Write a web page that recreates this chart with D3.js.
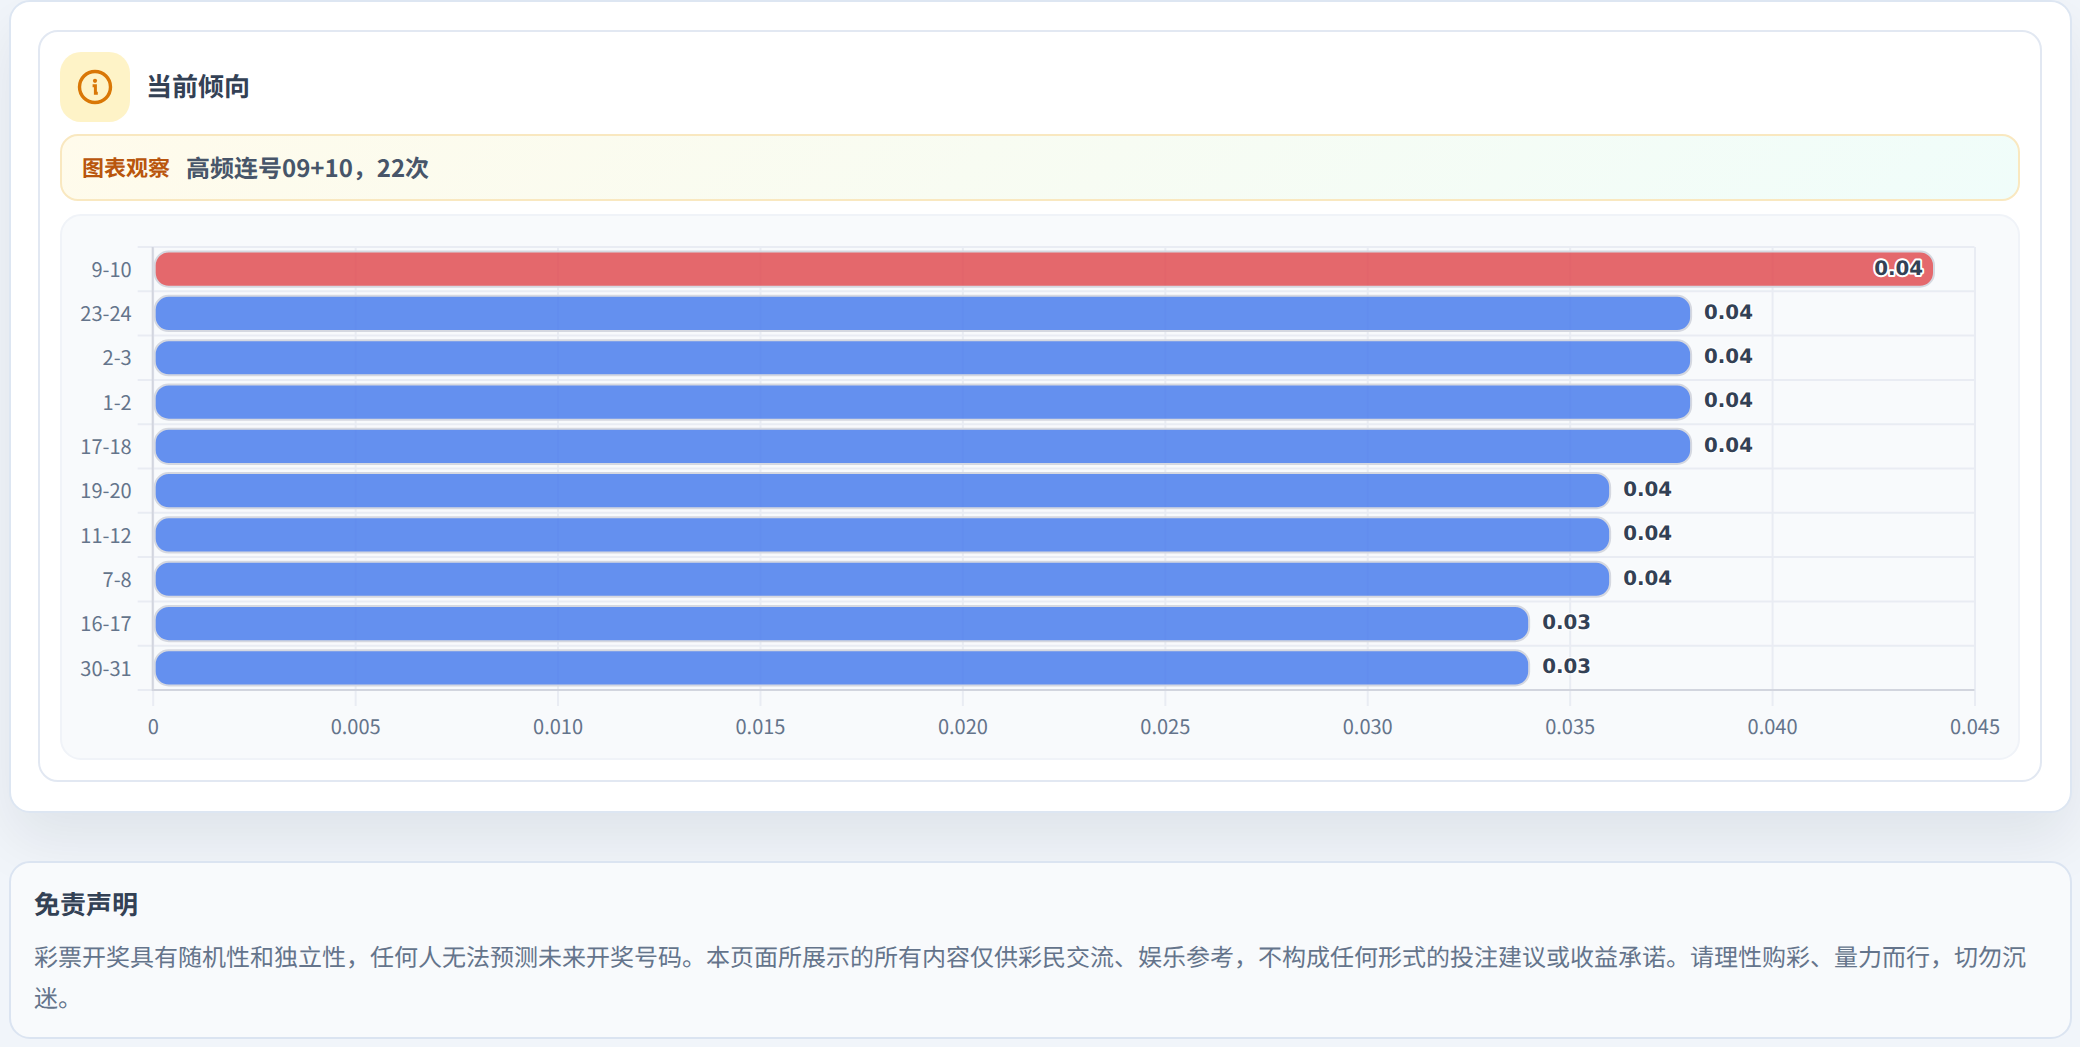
<!DOCTYPE html>
<html lang="zh-CN">
<head>
<meta charset="utf-8">
<script src="https://cdn.jsdelivr.net/npm/d3@7/dist/d3.min.js"></script>
<style>
html,body{margin:0;padding:0;width:2080px;height:1047px;overflow:hidden;background:#f1f5fa;font-family:"Noto Sans CJK SC","Noto Sans",sans-serif;text-rendering:geometricPrecision;}
.box{position:absolute;box-sizing:border-box;}
#outer{left:8.5px;top:0;width:2063px;height:813px;background:#fff;border:2px solid #dde6f2;border-radius:21px;box-shadow:0 27px 60px rgba(15,23,42,.08);}
#inner{left:38px;top:30px;width:2004px;height:752px;background:#fff;border:2px solid #e2e8f2;border-radius:20px;}
#icon{left:60px;top:52px;width:70px;height:70px;background:#fef3c7;border-radius:21px;}
#title{left:146px;top:64.5px;font-size:26px;line-height:42px;font-weight:700;color:#334155;white-space:nowrap;}
#banner{left:60px;top:134px;width:1960px;height:67px;border:2px solid #f9e8c0;border-radius:18px;background:linear-gradient(135deg,#fffbeb 0%,#f0fdfa 100%);}
#bLabel{left:82px;top:149px;font-size:22px;line-height:36px;font-weight:700;color:#b9560d;white-space:nowrap;}
#bText{left:186px;top:148px;font-size:24px;line-height:38px;font-weight:700;color:#475569;white-space:nowrap;}
#panel{left:60px;top:214px;width:1960px;height:546px;background:#f8fafc;border:2px solid #f0f3f8;border-radius:21px;}
#chart{position:absolute;left:60px;top:214px;}
#disc{left:8.5px;top:861px;width:2063px;height:178px;background:#f8fafc;border:2px solid #dbe4f1;border-radius:21px;}
#dTitle{left:34px;top:883px;font-size:26px;line-height:42px;font-weight:700;color:#334155;white-space:nowrap;}
#dText{left:34px;top:935px;width:2005px;font-size:24px;line-height:41px;color:#64748b;}
</style>
</head>
<body>
<div class="box" id="outer"></div>
<div class="box" id="inner"></div>
<div class="box" id="icon"></div>
<svg class="box" style="left:60px;top:52px" width="70" height="70" viewBox="0 0 70 70">
  <circle cx="35" cy="35" r="15.5" fill="none" stroke="#d97706" stroke-width="3.4"/>
  <circle cx="35" cy="28.8" r="2.1" fill="#d97706"/>
  <path d="M32.6 33.8h2.8v7.4h2.4" fill="none" stroke="#d97706" stroke-width="3"/>
</svg>
<div class="box" id="title"></div>
<div class="box" id="banner"></div>
<div class="box" id="bLabel"></div>
<div class="box" id="bText"></div>
<div class="box" id="panel"></div>
<svg id="chart" width="1960" height="546"></svg>
<div class="box" id="disc"></div>
<div class="box" id="dTitle"></div>
<div class="box" id="dText"></div>
<script>
const cardTitle = "当前倾向";
const noteLabel = "图表观察";
const noteText = "高频连号09+10，22次";
const disclaimerTitle = "免责声明";
const disclaimerText = "彩票开奖具有随机性和独立性，任何人无法预测未来开奖号码。本页面所展示的所有内容仅供彩民交流、娱乐参考，不构成任何形式的投注建议或收益承诺。请理性购彩、量力而行，切勿沉迷。";

const categories = ["9-10","23-24","2-3","1-2","17-18","19-20","11-12","7-8","16-17","30-31"];
const values = [0.044,0.038,0.038,0.038,0.038,0.036,0.036,0.036,0.034,0.034];
const valueLabels = ["0.04","0.04","0.04","0.04","0.04","0.04","0.04","0.04","0.03","0.03"];
const xTicks = [0,0.005,0.010,0.015,0.020,0.025,0.030,0.035,0.040,0.045];

d3.select("#title").text(cardTitle);
d3.select("#bLabel").text(noteLabel);
d3.select("#bText").text(noteText);
d3.select("#dTitle").text(disclaimerTitle);
d3.select("#dText").text(disclaimerText);

const svg = d3.select("#chart");
const x = d3.scaleLinear().domain([0,0.045]).range([92.7,1914.5]);
const y = d3.scaleBand().domain(categories).range([33,476]).paddingInner(0.25).paddingOuter(0.125);
const step = y.step();
const gridColor = "#e9ecf3", axisColor = "#d2d5de";

// horizontal separators (band borders)
const seps = d3.range(categories.length + 1).map(i => y.range()[0] + i*step);
svg.append("g").selectAll("line").data(seps).join("line")
  .attr("x1", x(0)-15).attr("x2", x(0.045)).attr("y1", d=>d).attr("y2", d=>d)
  .attr("stroke", gridColor).attr("stroke-width", 2);

// x axis with gridlines
const xAxis = d3.axisBottom(x).tickValues(xTicks)
  .tickFormat(d => d===0 ? "0" : d3.format(".3f")(d))
  .tickSize(476-33+16).tickPadding(14);
const gx = svg.append("g").attr("transform","translate(0,33)").call(xAxis);
gx.select(".domain").remove();
gx.selectAll(".tick line").attr("stroke",gridColor).attr("stroke-width",2);
gx.selectAll(".tick text").attr("fill","#64748b").style("font-size","20px")
  .style("font-family",'"Noto Sans CJK SC",sans-serif');

// y axis
const yAxis = d3.axisLeft(y).tickSize(0).tickPadding(21);
const gy = svg.append("g").attr("transform",`translate(${x(0)},0)`).call(yAxis);
gy.select(".domain").remove();
gy.selectAll(".tick text").attr("fill","#64748b").attr("y",1.3).style("font-size","20px")
  .style("font-family",'"Noto Sans CJK SC",sans-serif');

// axis lines
svg.append("line").attr("x1",x(0)).attr("x2",x(0)).attr("y1",33).attr("y2",477)
  .attr("stroke",axisColor).attr("stroke-width",2);
svg.append("line").attr("x1",x(0)).attr("x2",x(0.045)).attr("y1",476).attr("y2",476)
  .attr("stroke",axisColor).attr("stroke-width",2);

// bars
const barInset = 2;
svg.append("g").selectAll("rect").data(categories).join("rect")
  .attr("x", barInset + x(0))
  .attr("y", d=>y(d)-1)
  .attr("width", (d,i)=> x(values[i]) - x(0) - barInset)
  .attr("height", y.bandwidth()+2)
  .attr("rx", 14).attr("ry", 14)
  .attr("fill", (d,i)=> i===0 ? "#e14e52" : "#4a7dec")
  .attr("fill-opacity", 0.85)
  .attr("stroke", "#d5d8e0").attr("stroke-width", 2);

// value labels
svg.append("g").selectAll("text").data(categories).join("text")
  .attr("x", (d,i)=> i===0 ? x(values[i]) - 11 : x(values[i]) + 13)
  .attr("y", d=> y(d)+y.bandwidth()/2 - 1.5)
  .attr("dy","0.35em")
  .attr("text-anchor",(d,i)=> i===0 ? "end" : "start")
  .attr("fill","#334155")
  .attr("stroke","#fff").attr("stroke-width",(d,i)=> i===0 ? 4 : 2.5)
  .attr("stroke-linejoin","round")
  .style("paint-order","stroke")
  .style("font-family",'"DejaVu Sans",sans-serif')
  .style("font-weight",700).style("font-size","19.8px")
  .text((d,i)=>valueLabels[i]);
</script>
</body>
</html>
